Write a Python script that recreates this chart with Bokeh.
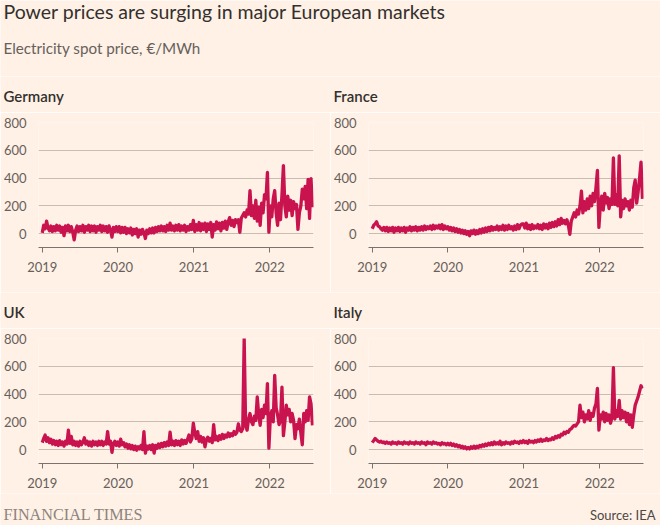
import pandas as pd
from bokeh.plotting import figure
from bokeh.models import Range1d, FixedTicker, Label, DatetimeTickFormatter
from bokeh.layouts import column, row
from bokeh.embed import file_html
from bokeh.resources import INLINE

# ---------------- data (weekly readings, EUR/MWh) ----------------
start_date = "2019-01-01"
n_weeks = 187

germany = [5, 60, 35, 90, 40,
           20, 55, 15, 50, 20, 60, 25, 55, 10, 45,
           -15, 55, 20, 60, 15, 50, 10, -45, 25, 55,
           15, 50, 20, 60, 10, 50, 25, 60, 15, 55,
           20, 55, 10, 50, 25, 60, 15, 55, 20, 50,
           10, 55, 25, -25, 45, 15, 50,
           15, 50, 5, 45, 10, 45, 0, 35, 5, 40,
           -10, 30, 0, 35, -25, 25, -5, 30, 5, -35,
           25, 0, 35, 5, 40, 5, 45, 15, 50, 20,
           55, 20, 50, 15, 60, 25, 75, 25, 55, 20,
           60, 25, 65, 20, 55, 25, 60, 15, 50, 25, 65, 30,
           95, 15, 65, 25, 80, 20, 70, 30, 75, 15,
           70, 30, 80, -25, 65, 25, 85, 35, 75, 20,
           80, 40, 90, 30, 85, 115, 60, 95, 50, 100,
           80, 100, 10, 110, 130, 150, 120, 170, 140, 310,
           130, 200, 110, 240, 90, 190, 60, 220, 150, 280,
           250, 440, 10,
           200, 120, 250, 310, 150, 60, 220, 100, 280,
           490,
           200, 120, 270, 170, 240, 130, 230, 180, 210,
           30, 150,
           200, 320, 250, 340, 180, 390, 110, 395, 190]

france = [35, 60, 70, 85, 55, 50, 35, 25, 45, 20,
          45, 15, 40, 20, 45, 10, 40, 20, 45, 15,
          40, 20, 45, 10, 40, 25, 50, 20, 45, 25,
          50, 20, 45, 25, 50, 25, 55, 30, 50, 35,
          55, 30, 60, 35, 55, 40, 60, 35, 65, 30, 55, 35,
          50, 25, 45, 20, 40, 15, 35, 10, 30, 5,
          25, 0, 20, -5, 15, -15, 20, 0, 25, -5,
          20, 0, 30, 5, 35, 10, 40, 15, 45, 20,
          50, 25, 45, 30, 55, 25, 50, 30, 60, 25,
          55, 30, 60, 35, 50, 25, 55, 30, 65, 35, 60, 70,
          70, 40, 75, 35, 60, 30, 65, 35, 55, 40,
          65, 35, 60, 30, 70, 40, 65, 35, 75, 45,
          80, 50, 85, 55, 100, 65, 110, 75, 95, 70,
          100, 60, -5, 90, 120, 150, 120, 170, 140, 200,
          305, 150, 230, 170, 250, 180, 270, 200, 290, 230,
          330, 455, 45,
          200, 270, 170, 290, 220, 260, 180, 250, 210,
          545, 210, 280, 200, 560, 120, 240,
          180, 250, 200, 230, 170, 240, 190, 330,
          385, 220, 300, 400, 515, 250]

uk = [50, 80, 105, 60, 85, 50, 75, 40, 65, 35,
      60, 30, 65, 35, 55, 25, 60, 40, 140, 45,
      95, 35, 60, 30, 55, 25, 60, 35, 55, 85,
      40, 60, 30, 55, 25, 60, 35, 55, 30, 60,
      35, 60, 30, 55, 40, 130, 40, 60, -20, 45, 60, 30,
      55, 25, 75, 35, 50, 20, 40, 10, 35, 5,
      30, 0, 25, -5, 20, 5, 30, 0, 130, -25,
      25, 5, 30, 0, 35, -25, 30, 10, 40, 15,
      45, 20, 50, 25, 55, 30, 125, 35, 60, 30,
      65, 35, 60, 30, 70, 40, 65, 45, 75, 105, 55, 80,
      190, 120, 80, 130, 60, 95, 55, 85, 20, 70,
      90, 60, 80, 50, 180, 70, 95, 65, 100, 75,
      110, 80, 105, 90, 120, 95, 115, 100, 130, 110,
      125, 185, 140, 130, 150, 800, 175, 140, 220, 260,
      200, 180, 240, 210, 380, 250, 175, 290, 230, 320,
      260, 475, 10,
      230, 280, 200, 535, 300, 250, 180, 210, 450,
      100, 200, 320, 250, 290, 200, 260, 210, 80, 180,
      150, 220, 120, 35, 260, 200, 280, 210, 380, 330, 175]

italy = [50, 65, 80, 70, 60, 55, 60, 50, 55, 45,
         55, 45, 50, 40, 55, 45, 50, 40, 55, 45,
         50, 40, 55, 45, 50, 40, 55, 45, 50, 40,
         55, 45, 50, 40, 55, 45, 50, 35, 55, 45,
         50, 40, 55, 45, 50, 40, 45, 35, 50, 40, 45, 35,
         45, 35, 45, 30, 40, 25, 35, 20, 30, 15,
         25, 10, 20, 5, 15, 5, 20, 10, 25, 10,
         25, 15, 30, 20, 35, 25, 40, 30, 45, 35,
         50, 35, 55, 40, 50, 40, 60, 35, 50, 40,
         55, 45, 50, 40, 55, 45, 60, 50, 55, 45, 60, 50,
         65, 50, 60, 45, 65, 55, 60, 50, 65, 55,
         70, 60, 75, 60, 70, 65, 80, 65, 75, 70,
         85, 75, 95, 85, 100, 90, 110, 105, 125, 115,
         130, 125, 145, 150, 165, 175, 170, 185, 200, 320,
         230, 270, 200, 250, 220, 280, 210, 260, 240, 300,
         330, 440, 140,
         250, 220, 270, 200, 260, 210, 250, 190, 230,
         590, 220, 280, 240, 355, 220,
         280, 230, 270, 200, 260, 180, 250, 160,
         250, 320, 350, 380, 420, 460, 440]

countries = ["Germany", "France", "UK", "Italy"]
series = [germany, france, uk, italy]
y_ticks = [0, 200, 400, 600, 800]
year_ticks = ["2019", "2020", "2021", "2022"]

title_text = "Power prices are surging in major European markets"
subtitle_text = "Electricity spot price, \u20ac/MWh"
source_text = "Source: IEA"
brand_text = "FINANCIAL TIMES"

# ---------------- style ----------------
BG = "#FFF1E5"
LINE = "#C9134F"
GRID = "#C9BDB2"
AXIS = "#66605C"
DARK = "#33302E"
FONT = "Lato"
HEAD_FONT = "'Lato Semibold', 'Lato Medium', Lato"

dates = pd.date_range(start_date, periods=n_weeks, freq="7D")
x_start = pd.Timestamp("2018-12-14")
x_end = pd.Timestamp("2022-07-31")
tick_ms = [pd.Timestamp(f"{y}-01-01").value // 10**6 for y in year_ticks]


def panel(values, bottom):
    left, right, top = 38, 17, 10
    p = figure(width=left + 275 + right, height=top + 125 + bottom, x_axis_type="datetime",
               x_range=Range1d(x_start, x_end), y_range=Range1d(-100, 800),
               output_backend="svg", toolbar_location=None, title=None,
               min_border_left=left, min_border_right=right,
               min_border_top=top, min_border_bottom=bottom)
    p.background_fill_color = BG
    p.border_fill_color = BG
    p.outline_line_color = None

    p.line(dates, values, line_color=LINE, line_width=3.3, line_join="round")

    p.xgrid.visible = False
    p.ygrid.ticker = FixedTicker(ticks=y_ticks)
    p.ygrid.grid_line_color = GRID
    p.ygrid.grid_line_width = 1

    ya = p.yaxis[0]
    ya.ticker = FixedTicker(ticks=y_ticks)
    ya.axis_line_color = None
    ya.major_tick_line_color = None
    ya.minor_tick_line_color = None
    ya.major_tick_out = 0
    ya.major_tick_in = 0
    ya.major_label_standoff = 12
    ya.major_label_text_font = FONT
    ya.major_label_text_font_size = "13px"
    ya.major_label_text_color = AXIS

    xa = p.xaxis[0]
    xa.ticker = FixedTicker(ticks=tick_ms)
    xa.formatter = DatetimeTickFormatter(years="%Y", months="%Y", days="%Y",
                                         hours="%Y", minutes="%Y", seconds="%Y")
    xa.axis_line_color = "#7A726C"
    xa.axis_line_width = 1
    xa.major_tick_line_color = "#7A726C"
    xa.major_tick_out = 5
    xa.major_tick_in = 0
    xa.minor_tick_line_color = None
    xa.major_label_standoff = 9
    xa.major_label_text_font = FONT
    xa.major_label_text_font_size = "13px"
    xa.major_label_text_color = AXIS
    return p


def blank(width, height):
    p = figure(width=width, height=height, x_range=Range1d(0, width), y_range=Range1d(0, height),
               output_backend="svg", toolbar_location=None, min_border=0,
               x_axis_location=None, y_axis_location=None)
    p.background_fill_color = BG
    p.border_fill_color = BG
    p.outline_line_color = None
    p.grid.visible = False
    return p


def heading_strip(left_name, right_name):
    s = blank(660, 36)
    for xpos, name in ((3, left_name), (333, right_name)):
        s.add_layout(Label(x=xpos, y=17, text=name, text_font=HEAD_FONT, text_font_size="15px",
                           text_font_style="normal", text_color=DARK, text_baseline="middle"))
    return s


header = blank(660, 76)
header.add_layout(Label(x=3, y=65, text=title_text, text_font=FONT, text_font_size="19.5px",
                        text_color=DARK, text_baseline="middle"))
header.add_layout(Label(x=3, y=29, text=subtitle_text, text_font=FONT, text_font_size="15.2px",
                        text_color=AXIS, text_baseline="middle"))

top_heads = heading_strip(countries[0], countries[1])
bottom_heads = heading_strip(countries[2], countries[3])

p_de = panel(series[0], 45)
p_fr = panel(series[1], 45)
p_uk = panel(series[2], 30)
p_it = panel(series[3], 30)

footer = blank(660, 32)
footer.add_layout(Label(x=3, y=11, text=brand_text, text_font="Liberation Serif", text_font_size="16.2px",
                        text_color="#8C847D", text_baseline="middle"))
footer.add_layout(Label(x=655, y=11, text=source_text, text_font=FONT, text_font_size="13px",
                        text_color="#4D4845", text_baseline="middle", text_align="right"))

layout = column(header, top_heads, row(p_de, p_fr), bottom_heads, row(p_uk, p_it), footer)

with open("out.html", "w") as f:
    f.write(file_html(layout, INLINE))
